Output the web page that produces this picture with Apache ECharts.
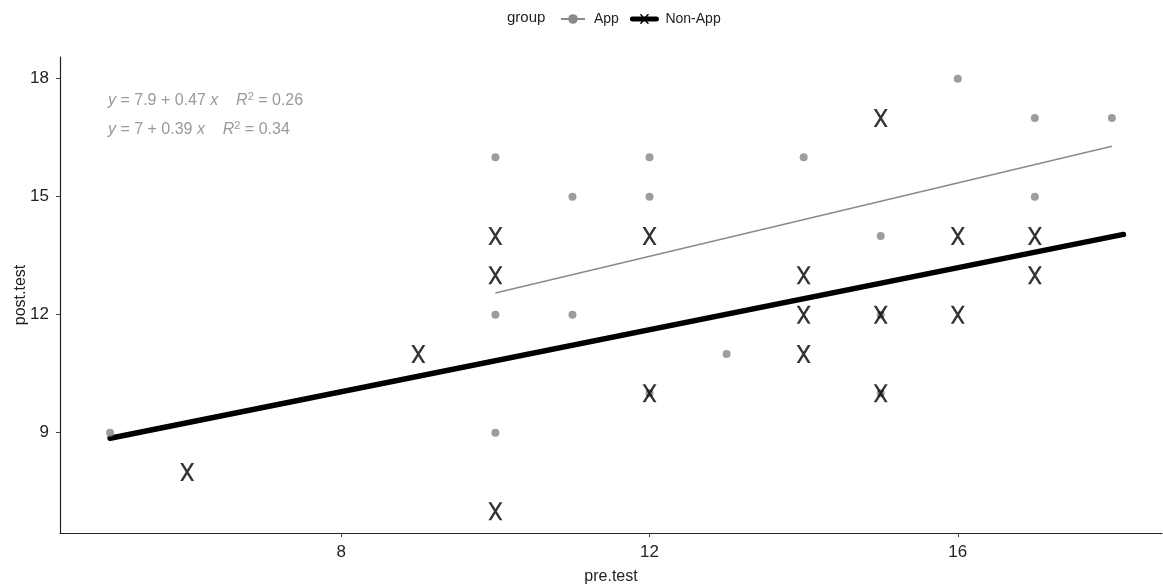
<!DOCTYPE html>
<html>
<head>
<meta charset="utf-8">
<script src="https://cdn.jsdelivr.net/npm/echarts@6/dist/echarts.min.js"></script>
<style>html,body{margin:0;padding:0;background:#fff}#c{width:1163px;height:585px}</style>
</head>
<body>
<div id="c"></div>
<script>
// ---- data ----
const appPoints = [
  [5,9],[10,16],[10,12],[10,9],[11,15],[11,12],[12,16],[12,15],[12,10],
  [13,11],[14,16],[15,14],[15,12],[15,10],[16,18],[17,17],[17,15],[18,17]
];
const nonAppPoints = [
  [6,8],[9,11],[10,14],[10,13],[10,7],[12,14],[12,10],[14,13],[14,12],[14,11],
  [15,17],[15,12],[15,10],[16,14],[16,12],[17,14],[17,13]
];
const appFit = [[10,12.55],[18,16.28]];
const nonAppFit = [[5,8.86],[18.15,14.04]];
const xTicks = [8,12,16];
const yTicks = [9,12,15,18];
const eqApp = '{i|y} = 7.9 + 0.47 {i|x}    {i|R}{s|2} = 0.26';
const eqNonApp = '{i|y} = 7 + 0.39 {i|x}    {i|R}{s|2} = 0.34';

const FONT = 'Liberation Sans, Arial, sans-serif';
const xPath = 'path://M0,0L2.6,0L13,17L10.4,17ZM10.4,0L13,0L2.6,17L0,17Z';

const chart = echarts.init(document.getElementById('c'), null, {renderer:'canvas'});
const eqRich = {
  i:{fontStyle:'italic', fontSize:16, fontFamily:FONT, color:'#9a9a9a', lineHeight:20},
  s:{fontSize:11, fontFamily:FONT, color:'#9a9a9a', verticalAlign:'top', lineHeight:20}
};
chart.setOption({
  animation:false,
  backgroundColor:'#fff',
  title:{text:'group', left:502, top:5, textStyle:{fontFamily:FONT, fontSize:15, fontWeight:'normal', color:'#222'}},
  legend:{
    data:[{name:'App', itemStyle:{borderWidth:0}},{name:'Non-App', lineStyle:{width:5}}],
    left:555, top:7, itemWidth:24, itemHeight:12, itemGap:11,
    textStyle:{fontFamily:FONT, fontSize:14, color:'#222', padding:[0,0,0,4]}
  },
  grid:{left:60, right:1, top:57, bottom:52, containLabel:false, outerBoundsMode:'none'},
  xAxis:{
    type:'value', min:4.35, max:18.65,
    name:'pre.test', nameLocation:'middle', nameGap:36, nameMoveOverlap:false,
    nameTextStyle:{fontFamily:FONT, fontSize:16, color:'#222'},
    axisLine:{show:true, lineStyle:{color:'#222', width:1.2}},
    axisTick:{show:true, length:4, lineStyle:{color:'#444'}, customValues:xTicks},
    axisLabel:{fontFamily:FONT, fontSize:17, color:'#222', margin:11, customValues:xTicks},
    splitLine:{show:false}
  },
  yAxis:{
    type:'value', min:6.45, max:18.55,
    name:'post.test', nameLocation:'middle', nameGap:31, nameMoveOverlap:false,
    nameTextStyle:{fontFamily:FONT, fontSize:16, color:'#222'},
    axisLine:{show:true, lineStyle:{color:'#222', width:1.2}},
    axisTick:{show:true, length:4, lineStyle:{color:'#444'}, customValues:yTicks},
    axisLabel:{fontFamily:FONT, fontSize:17, color:'#222', margin:11, customValues:yTicks},
    splitLine:{show:false}
  },
  graphic:[
    {type:'text', left:108, top:91, style:{text:eqApp, rich:eqRich, fontFamily:FONT, fontSize:16, fill:'#9a9a9a', lineHeight:20}},
    {type:'text', left:108, top:120, style:{text:eqNonApp, rich:eqRich, fontFamily:FONT, fontSize:16, fill:'#9a9a9a', lineHeight:20}}
  ],
  series:[
    {name:'App', type:'line', data:appFit, showSymbol:false, symbol:'circle', symbolSize:6,
     lineStyle:{color:'#8a8a8a', width:1.6}, itemStyle:{color:'#8a8a8a'}, z:2, silent:true},
    {name:'Non-App', type:'line', data:nonAppFit, showSymbol:false, symbol:xPath, symbolSize:[13,17],
     lineStyle:{color:'#000', width:5.5, cap:'round'}, itemStyle:{color:'#000'}, z:2, silent:true},
    {name:'App', type:'scatter', data:appPoints, symbol:'circle', symbolSize:8,
     itemStyle:{color:'#858585'}, z:3},
    {name:'Non-App', type:'scatter', data:nonAppPoints, symbol:xPath, symbolSize:[14,18],
     itemStyle:{color:'#000'}, z:4}
  ]
});
</script>
</body>
</html>
